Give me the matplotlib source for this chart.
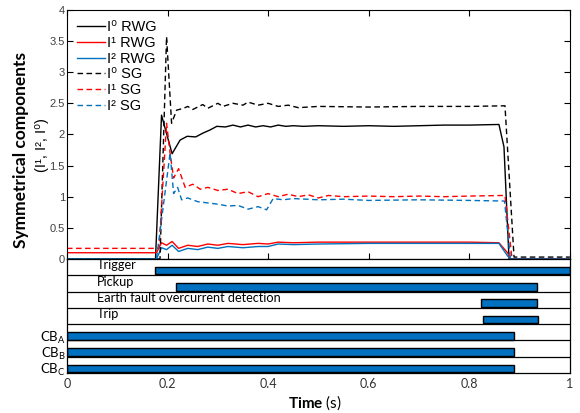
import matplotlib
matplotlib.use("Agg")
import matplotlib.pyplot as plt
import numpy as np

plt.rcParams['font.family'] = ['Lato', 'DejaVu Sans']
plt.rcParams['mathtext.fontset'] = 'custom'
plt.rcParams['mathtext.rm'] = 'Liberation Sans'
plt.rcParams['mathtext.bf'] = 'Lato:bold'

# ---- symmetrical components ----
t_i0_rwg = [0, 0.176, 0.188, 0.209, 0.225, 0.239, 0.256, 0.27, 0.284, 0.298, 0.315,
            0.33, 0.345, 0.36, 0.375, 0.39, 0.405, 0.42, 0.435, 0.45, 0.47, 0.5,
            0.55, 0.6, 0.65, 0.7, 0.75, 0.8, 0.859, 0.869, 0.879, 1.0]
i0_rwg = [0, 0, 2.31, 1.69, 1.91, 1.97, 1.96, 2.02, 2.07, 2.13, 2.12, 2.15, 2.12,
          2.15, 2.12, 2.14, 2.12, 2.15, 2.13, 2.14, 2.13, 2.14, 2.13, 2.14, 2.13,
          2.14, 2.15, 2.15, 2.16, 1.8, 0, 0]

t_i1_rwg = [0, 0.178, 0.188, 0.198, 0.209, 0.222, 0.24, 0.26, 0.28, 0.3, 0.32, 0.35,
            0.38, 0.4, 0.42, 0.45, 0.5, 0.6, 0.7, 0.8, 0.859, 0.876, 0.882, 1.0]
i1_rwg = [0.1, 0.1, 0.26, 0.22, 0.28, 0.17, 0.22, 0.2, 0.24, 0.22, 0.25, 0.23,
          0.25, 0.24, 0.27, 0.26, 0.27, 0.27, 0.27, 0.27, 0.26, 0.1, 0, 0]

t_i2_rwg = [0, 0.178, 0.188, 0.198, 0.209, 0.222, 0.24, 0.26, 0.28, 0.3, 0.32, 0.35,
            0.38, 0.4, 0.42, 0.45, 0.5, 0.6, 0.7, 0.8, 0.859, 0.876, 0.882, 1.0]
i2_rwg = [0, 0, 0.18, 0.15, 0.22, 0.12, 0.17, 0.15, 0.19, 0.17, 0.2, 0.18,
          0.2, 0.2, 0.24, 0.23, 0.24, 0.25, 0.25, 0.25, 0.25, 0.05, 0, 0]

t_i0_sg = [0, 0.185, 0.198, 0.208, 0.218, 0.232, 0.24, 0.25, 0.27, 0.28, 0.3, 0.31,
           0.33, 0.35, 0.36, 0.38, 0.4, 0.42, 0.44, 0.46, 0.5, 0.6, 0.7, 0.8,
           0.871, 0.889, 1.0]
i0_sg = [0, 0, 3.57, 2.18, 2.39, 2.42, 2.45, 2.4, 2.48, 2.42, 2.5, 2.45, 2.5, 2.47,
         2.52, 2.47, 2.5, 2.45, 2.47, 2.43, 2.45, 2.44, 2.45, 2.45, 2.46, 0.03, 0.03]

t_i1_sg = [0, 0.183, 0.198, 0.205, 0.212, 0.222, 0.235, 0.25, 0.265, 0.28, 0.3, 0.32,
           0.34, 0.36, 0.38, 0.4, 0.42, 0.44, 0.46, 0.48, 0.5, 0.52, 0.55, 0.6,
           0.65, 0.7, 0.75, 0.8, 0.871, 0.885, 1.0]
i1_sg = [0.17, 0.17, 2.18, 1.7, 1.3, 1.45, 1.15, 1.2, 1.12, 1.15, 1.1, 1.12, 1.05,
         1.08, 1.0, 1.05, 1.0, 1.04, 1.0, 1.03, 0.98, 1.02, 1.0, 1.01, 1.0, 1.01,
         1.0, 1.01, 1.02, 0, 0]

t_i2_sg = [0, 0.178, 0.205, 0.212, 0.22, 0.228, 0.24, 0.26, 0.28, 0.3, 0.32, 0.34,
           0.36, 0.38, 0.397, 0.41, 0.43, 0.45, 0.5, 0.55, 0.6, 0.7, 0.8, 0.87,
           0.882, 1.0]
i2_sg = [0, 0, 1.7, 1.05, 1.15, 0.95, 0.98, 0.92, 0.9, 0.88, 0.85, 0.86, 0.8, 0.84,
         0.79, 0.97, 0.95, 0.97, 0.95, 0.96, 0.94, 0.95, 0.94, 0.93, 0, 0]

# ---- relay / breaker signals ----
signal_names = ["Trigger", "Pickup", "Earth fault overcurrent detection", "Trip",
                r"CB$_{\mathregular{A}}$", r"CB$_{\mathregular{B}}$", r"CB$_{\mathregular{C}}$"]
signal_start = [0.175, 0.216, 0.823, 0.827, 0.0, 0.0, 0.0]
signal_end = [1.0, 0.934, 0.934, 0.937, 0.889, 0.889, 0.889]

RED = "#ff0000"
BLUE = "#0072bd"
BAR_BLUE = "#0070c0"
TICK_GREY = "#404040"
dash = (0, (4, 2.5))
ARIAL = ["Liberation Sans", "DejaVu Sans"]

fig = plt.figure(figsize=(5.8, 4.13), dpi=100)
ax = fig.add_axes([0.1155, 0.373, 0.867, 0.603])
ax2 = fig.add_axes([0.1155, 0.097, 0.867, 0.276])

ax.plot(t_i0_rwg, i0_rwg, color="black", lw=1.0, label="I\u2070 RWG")
ax.plot(t_i1_rwg, i1_rwg, color=RED, lw=1.0, label="I\u00b9 RWG")
ax.plot(t_i2_rwg, i2_rwg, color=BLUE, lw=1.0, label="I\u00b2 RWG")
ax.plot(t_i0_sg, i0_sg, color="black", lw=1.0, ls=dash, label="I\u2070 SG")
ax.plot(t_i1_sg, i1_sg, color=RED, lw=1.0, ls=dash, label="I\u00b9 SG")
ax.plot(t_i2_sg, i2_sg, color=BLUE, lw=1.0, ls=dash, label="I\u00b2 SG")

ax.set_xlim(0, 1)
ax.set_ylim(0, 4)
ax.set_xticks(np.arange(0, 1.01, 0.2))
ax.set_yticks(np.arange(0, 4.01, 0.5))
ax.set_yticklabels(["0", "0.5", "1", "1.5", "2", "2.5", "3", "3.5", "4"])
ax.tick_params(direction="in", top=True, right=True, labelbottom=False,
               length=4, width=0.8, labelsize=8, labelcolor=TICK_GREY,
               labelfontfamily="Liberation Sans", pad=1.5)
for s in ax.spines.values():
    s.set_linewidth(0.8)

ax.legend(loc="upper left", frameon=False, handlelength=1.9,
          handletextpad=0.15, labelspacing=0.12, borderaxespad=0.25,
          borderpad=0.45, prop={"family": ARIAL, "size": 10.5})

fig.text(0.037, 0.637, "Symmetrical components", rotation=90, ha="center",
         va="center", fontsize=12.5, fontweight="bold")
fig.text(0.073, 0.649, "(I\u00b9, I\u00b2, I\u2070)", rotation=90, ha="center",
         va="center", fontsize=10.5, family=ARIAL)

# ---- lower panel: signal bars ----
n = len(signal_names)
for i in range(n):
    ax2.barh(i + 0.72, signal_end[i] - signal_start[i], left=signal_start[i],
             height=0.46, color=BAR_BLUE, edgecolor="black", linewidth=1.0)
    if i > 0:
        ax2.axhline(i, color="black", lw=0.9)
    if i < 4:
        ax2.text(0.06, i + 0.4, signal_names[i], ha="left", va="center",
                 fontsize=9.2)

ax2.set_xlim(0, 1)
ax2.set_ylim(n, 0)
ax2.set_yticks(np.arange(4, n) + 0.72)
ax2.set_yticklabels(signal_names[4:], fontsize=9.5)
ax2.set_xticks(np.arange(0, 1.01, 0.2))
ax2.set_xticklabels(["0", "0.2", "0.4", "0.6", "0.8", "1"])
ax2.tick_params(length=0, labelsize=9, labelcolor="#333333", pad=4)
ax2.tick_params(axis="y", labelcolor="black", labelsize=9.5, pad=1)
for s in ax2.spines.values():
    s.set_linewidth(0.9)
fig.text(0.543, 0.024, r"$\mathbf{Time}$ (s)", ha="center", va="center",
         fontsize=11)

fig.savefig("out.png", dpi=100)
